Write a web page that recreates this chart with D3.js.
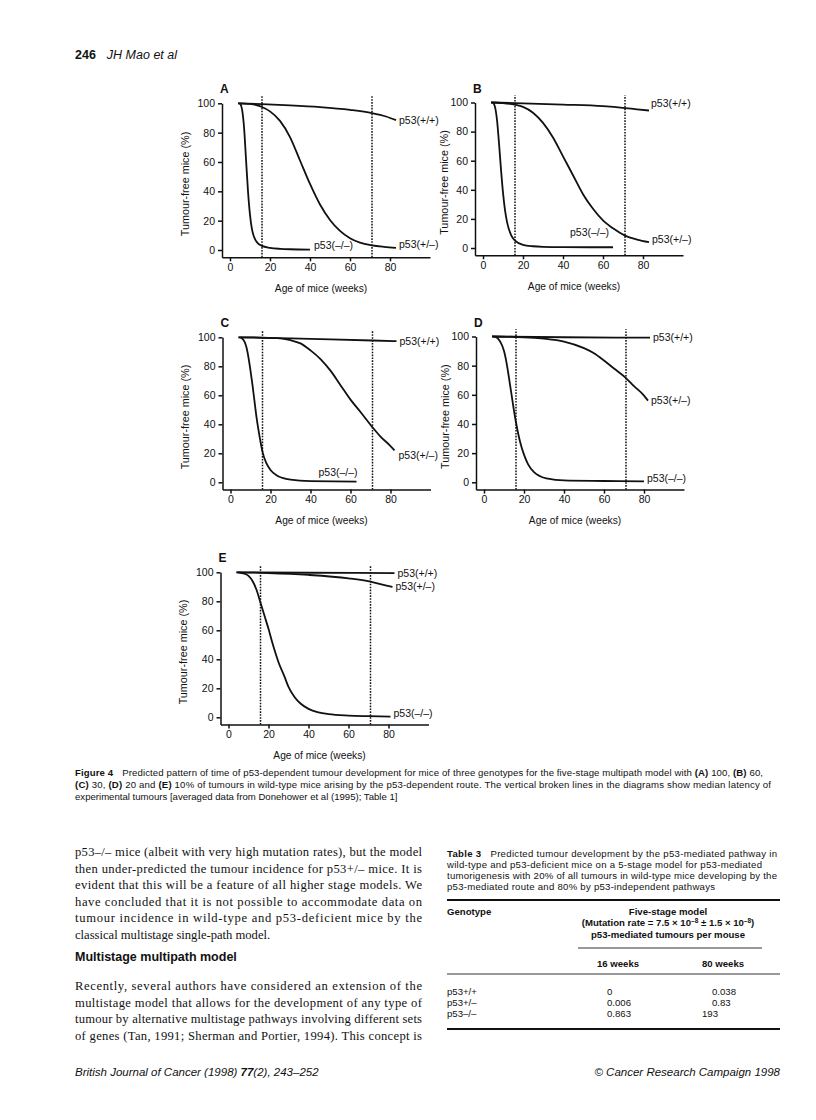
<!DOCTYPE html>
<html><head><meta charset="utf-8">
<script src="https://cdn.jsdelivr.net/npm/d3@7"></script>
<style>
body{margin:0;background:#fff}
svg text{font-family:"Liberation Sans",Arial,sans-serif;fill:#111}
</style>
</head><body>
<svg id="page" width="816" height="1120"></svg>
<script>
// ---------------- DATA ----------------
const xTicks = [0, 20, 40, 60, 80];
const yTicks = [0, 20, 40, 60, 80, 100];
const medianLatency = [16, 71];           // weeks (vertical broken lines)
const seriesNames = ["p53(+/+)", "p53(+/\u2013)", "p53(\u2013/\u2013)"];
const panelLetters = ["A", "B", "C", "D", "E"];

// Panel A (100%)
const wtA  = [[4,100],[16,99.4],[30,98.6],[45,97.4],[60,95.5],[71,93.3],[78,91],[83,88.5]];
const hetA = [[4,100],[10,99.6],[16,97.5],[20,94.5],[25,88],[30,77],[35,61],[40,45],[45,31],[50,20.5],[55,13],[60,8],[65,5],[71,3.2],[77,2.2],[83,1.5]];
const koA  = [[5,100],[6,96],[7,84],[8,62],[9,40],[10,24],[11,14],[12,9],[14,4.5],[16,2.8],[20,1.5],[25,0.8],[30,0.5],[40,0.3]];
// Panel B (60%)
const wtB  = [[4,100],[16,99.6],[40,98.6],[60,97.5],[71,96.2],[77,95.3],[83,94.5]];
const hetB = [[4,100],[10,99.6],[16,98.5],[20,97],[25,93],[30,86],[35,76],[40,63],[45,50],[50,37],[55,27],[60,19],[65,13.5],[71,8.5],[77,5.8],[83,4]];
const koB  = [[5,100],[6,97],[7,88],[8,72],[9,54],[10,38],[11,26],[12,18],[14,9],[16,5],[20,2.2],[25,1.2],[30,0.8],[40,0.6],[65,0.5]];
// Panel C (30%)
const wtC  = [[4,100],[30,99.2],[50,98.6],[71,97.8],[83,97.3]];
const hetC = [[4,100],[16,99.8],[25,99.2],[30,98],[35,95.8],[40,91],[45,85],[50,77],[55,67],[60,57],[65,48.5],[71,38],[75,31.5],[80,25],[82,22]];
const koC  = [[5,100],[7,97],[8,93],[9,86],[10,77],[11,67],[12,56],[13,45],[14,36],[15,28],[16,21],[18,13],[20,8.5],[23,4.8],[26,3],[30,1.8],[40,0.8],[63,0.5]];
// Panel D (20%)
const wtD  = [[4,100],[40,99.5],[83,99.2]];
const hetD = [[4,100],[20,99.5],[30,98.5],[40,96.5],[50,92],[55,88.5],[60,83.5],[65,78],[71,71.5],[75,66],[80,59.5],[82,56]];
const koD  = [[5,100],[7,98.5],[9,94],[10,90],[11,84],[12,76],[13,67],[14,58],[15,49],[16,41],[17,34],[18,28],[20,19],[22,12.5],[25,7],[28,4.2],[32,2.5],[40,1.3],[60,0.9],[80,0.6]];
// Panel E (10%)
const wtE  = [[4,100],[40,99.7],[83,99.5]];
const hetE = [[4,100],[20,99.5],[40,98.2],[60,95.8],[71,93.5],[77,91.5],[82,90]];
const koE  = [[5,100],[8,99],[10,97.5],[12,94],[14,88],[16,79],[18,70],[20,61],[22,51],[25,38],[28,28],[30,21],[33,14],[36,9.5],[40,5.8],[45,3.4],[50,2.2],[60,1.2],[70,0.8],[81,0.5]];

const panelSeries = [[wtA,hetA,koA],[wtB,hetB,koB],[wtC,hetC,koC],[wtD,hetD,koD],[wtE,hetE,koE]];

// label anchors (data units: weeks, %) where a label does not sit at its curve end
const labelOverrides = {
  "A2": [42, 3.5],
  "B0": [84, 99.5],
  "B2": [43.5, 10.5],
  "C1": [84, 18.5],
  "C2": [44, 7],
};

// table 3
const tableRows = ["p53+/+", "p53+/\u2013", "p53\u2013/\u2013"];
const tumours16 = ["0", "0.006", "0.863"];
const tumours80 = ["0.038", "0.83", "193"];

// ---------------- LAYOUT ----------------
const svg = d3.select("#page");
const panelBoxes = [
  {x0:230,   y0:250,   y100:103.3, yLab:37},
  {x0:483,   y0:248,   y100:102.5, yLab:31},
  {x0:230.5, y0:482.3, y100:337.3, yLab:37},
  {x0:484,   y0:482.3, y100:336.5, yLab:31},
  {x0:228.5, y0:717.3, y100:572.3, yLab:37},
];

panelBoxes.forEach((b, i) => {
  const g = svg.append("g");
  const x = d3.scaleLinear().domain([0, 80]).range([b.x0, b.x0 + 160]);
  const y = d3.scaleLinear().domain([0, 100]).range([b.y0, b.y100]);
  const xAx = x.copy().domain([-4, 100]).range([x(-4), x(100)]);
  const yAx = y.copy().domain([-5, 100]).range([y(-5), y(100)]);

  // axes
  const gx = g.append("g").attr("transform", `translate(0,${y(-5)})`)
    .call(d3.axisBottom(xAx).tickValues(xTicks).tickSize(4).tickSizeOuter(0).tickPadding(2));
  const gy = g.append("g").attr("transform", `translate(${x(-4)},0)`)
    .call(d3.axisLeft(yAx).tickValues(yTicks).tickSize(4).tickSizeOuter(0).tickPadding(3));
  [gx, gy].forEach(a => {
    a.selectAll("path,line").attr("stroke", "#111").attr("stroke-width", 1.5);
    a.selectAll("text").attr("font-size", 10.5).attr("font-family", '"Liberation Sans",Arial,sans-serif').attr("fill", "#111");
  });

  // median latency lines
  g.selectAll(".med").data(medianLatency).join("line")
    .attr("x1", d => x(d)).attr("x2", d => x(d))
    .attr("y1", y(-5)).attr("y2", y(105))
    .attr("stroke", "#111").attr("stroke-width", 1.5).attr("stroke-dasharray", "1.6,1.3");

  // curves
  const line = d3.line().x(d => x(d[0])).y(d => y(d[1])).curve(d3.curveMonotoneX);
  panelSeries[i].forEach((s, k) => {
    g.append("path").attr("d", line(s)).attr("fill", "none")
      .attr("stroke", "#111").attr("stroke-width", 1.8);
    const key = panelLetters[i] + k;
    let lx, ly;
    if (labelOverrides[key]) { lx = x(labelOverrides[key][0]); ly = y(labelOverrides[key][1]); }
    else { const e = s[s.length - 1]; lx = x(e[0]) + 3; ly = y(e[1]) - (e[1] < 10 ? 3 : 0); }
    g.append("text").attr("x", lx).attr("y", ly).attr("dy", "0.35em")
      .attr("font-size", 10.5).text(seriesNames[k]);
  });

  // letter
  g.append("text").attr("x", b.x0 - 10).attr("y", b.y100 - 10)
    .attr("font-size", 12).attr("font-weight", "bold").text(panelLetters[i]);
  // axis titles
  g.append("text").attr("transform", `translate(${x(-4) - b.yLab},${y(45)}) rotate(-90)`)
    .attr("text-anchor", "middle").attr("dy", "0.35em").attr("font-size", 10.8)
    .text("Tumour-free mice (%)");
  g.append("text").attr("x", b.x0 + 91).attr("y", b.y0 + 38).attr("dy", "0.35em")
    .attr("text-anchor", "middle").attr("font-size", 10.2).text("Age of mice (weeks)");
});

// ---------------- PAGE TEXT ----------------
function textLine(x, y, segs, o) {
  const t = svg.append("text").attr("x", x).attr("y", y)
    .attr("font-size", o.size).style("font-family", o.family || '"Liberation Sans",Arial,sans-serif');
  if (o.anchor) t.attr("text-anchor", o.anchor);
  if (o.width) t.attr("textLength", o.width).attr("lengthAdjust", "spacing");
  segs.forEach(s => {
    const ts = t.append("tspan").text(s[0]);
    if (s[1] & 1) ts.attr("font-weight", "bold");
    if (s[1] & 2) ts.attr("font-style", "italic");
    if (s[2]) ts.attr("dx", s[2]);
  });
  return t;
}

// running head
textLine(75, 59, [["246", 1], ["JH Mao et al", 2, 11]], {size: 12.5});

// caption
const capSize = 9.6;
textLine(75, 776, [["Figure 4", 1], ["Predicted pattern of time of p53-dependent tumour development for mice of three genotypes for the five-stage multipath model with ", 0, 9], ["(A)", 1], [" 100, ", 0], ["(B)", 1], [" 60,", 0]], {size: capSize, width: 688});
textLine(75, 788, [["(C)", 1], [" 30, ", 0], ["(D)", 1], [" 20 and ", 0], ["(E)", 1], [" 10% of tumours in wild-type mice arising by the p53-dependent route. The vertical broken lines in the diagrams show median latency of", 0]], {size: capSize, width: 696});
textLine(75, 800, [["experimental tumours [averaged data from Donehower et al (1995); Table 1]", 0]], {size: capSize});

// body text
const serif = '"Liberation Serif","Times New Roman",serif';
const bodyLines1 = [
  "p53\u2013/\u2013 mice (albeit with very high mutation rates), but the model",
  "then under-predicted the tumour incidence for p53+/\u2013 mice. It is",
  "evident that this will be a feature of all higher stage models. We",
  "have concluded that it is not possible to accommodate data on",
  "tumour incidence in wild-type and p53-deficient mice by the",
  "classical multistage single-path model."
];
const bodyLines2 = [
  "Recently, several authors have considered an extension of the",
  "multistage model that allows for the development of any type of",
  "tumour by alternative multistage pathways involving different sets",
  "of genes (Tan, 1991; Sherman and Portier, 1994). This concept is"
];
const colW = 347, lead = 16.5;
bodyLines1.forEach((l, i) => textLine(75, 856 + i * lead, [[l, 0]], {size: 12.6, family: serif, width: i < 5 ? colW : null}));
textLine(75, 961, [["Multistage multipath model", 1]], {size: 12.5});
bodyLines2.forEach((l, i) => textLine(75, 990 + i * lead, [[l, 0]], {size: 12.6, family: serif, width: colW}));

// table 3
const tSize = 9.6, tx = 447, tR = 780;
const titleLines = [
  [["Table 3", 1], ["Predicted tumour development by the p53-mediated pathway in", 0, 9]],
  [["wild-type and p53-deficient mice on a 5-stage model for p53-mediated", 0]],
  [["tumorigenesis with 20% of all tumours in wild-type mice developing by the", 0]],
  [["p53-mediated route and 80% by p53-independent pathways", 0]]
];
const titleW = [330, 315, 330, 268];
titleLines.forEach((segs, i) => textLine(tx, 856.5 + i * 11.3, segs, {size: tSize, width: titleW[i]}));
function rule(x1, x2, yy, w, c) {
  svg.append("line").attr("x1", x1).attr("x2", x2).attr("y1", yy).attr("y2", yy)
    .attr("stroke", c || "#111").attr("stroke-width", w);
}
rule(tx, tR, 900, 2);
textLine(tx, 914.5, [["Genotype", 1]], {size: tSize});
const cMid = 668;
textLine(cMid, 914.5, [["Five-stage model", 1]], {size: tSize, anchor: "middle"});
const mut = svg.append("text").attr("x", cMid).attr("y", 926).attr("text-anchor", "middle")
  .attr("font-size", tSize).attr("font-weight", "bold");
mut.append("tspan").text("(Mutation rate = 7.5 \u00d7 10");
mut.append("tspan").attr("font-size", 6.5).attr("dy", -3.5).text("\u20138");
mut.append("tspan").attr("dy", 3.5).text(" \u00b1 1.5 \u00d7 10");
mut.append("tspan").attr("font-size", 6.5).attr("dy", -3.5).text("\u20138");
mut.append("tspan").attr("dy", 3.5).text(")");
textLine(cMid, 937.5, [["p53-mediated tumours per mouse", 1]], {size: tSize, anchor: "middle"});
rule(578, 762, 948, 1, "#333");
const c16 = 618, c80 = 723;
textLine(c16, 966.5, [["16 weeks", 1]], {size: tSize, anchor: "middle"});
textLine(c80, 966.5, [["80 weeks", 1]], {size: tSize, anchor: "middle"});
rule(tx, tR, 974, 1, "#333");
const rowY = [994.5, 1005.5, 1016.5];
const col80x = [712, 712, 702];
tableRows.forEach((r, i) => {
  textLine(tx, rowY[i], [[r, 0]], {size: tSize});
  textLine(607, rowY[i], [[tumours16[i], 0]], {size: tSize});
  textLine(col80x[i], rowY[i], [[tumours80[i], 0]], {size: tSize});
});
rule(tx, tR, 1029, 2);

// footer
textLine(75, 1076, [["British Journal of Cancer", 2], [" (1998) ", 2], ["77", 3], ["(2), 243\u2013252", 2]], {size: 11.5});
textLine(780, 1076, [["\u00a9 Cancer Research Campaign 1998", 2]], {size: 11.5, anchor: "end"});
</script>
</body></html>
